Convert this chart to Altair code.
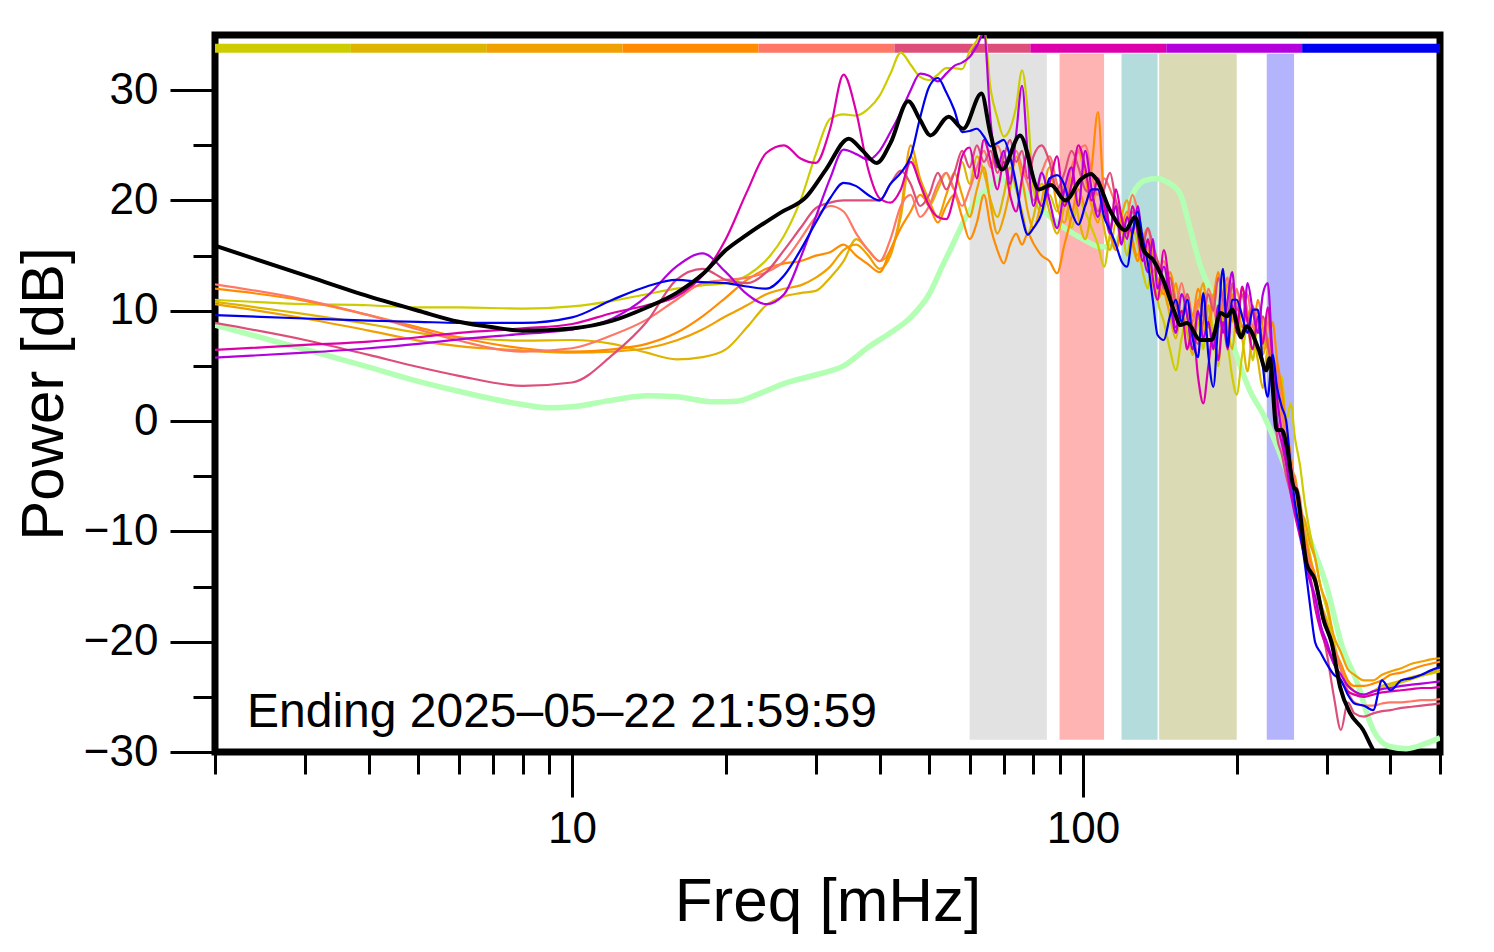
import altair as alt
import pandas as pd

FONT = "Liberation Sans"

# shared frequency grid (mHz) for the nine coloured spectra
F = [2, 3, 4, 5, 6, 8, 10, 12, 14, 16,
     18, 20, 22, 24, 26, 28, 30, 32, 34, 36,
     38, 40, 42, 44, 46, 48, 50, 52, 54, 56,
     58, 60, 62, 64, 66, 68, 70, 72, 74, 76,
     78, 80, 83, 86, 89, 92, 95, 98, 101, 104,
     107, 110, 113, 116, 119, 122, 125, 128, 131, 134,
     137, 140, 144, 148, 152, 156, 160, 164, 168, 172,
     176, 180, 184, 188, 192, 196, 200, 205, 210, 215,
     220, 225, 230, 235, 240, 245, 250, 255, 260, 266,
     272, 278, 285, 292, 300, 310, 320, 330, 340, 355,
     370, 385, 400, 420, 440, 460, 480, 500]

S1 = [11.0, 10.6, 10.5, 10.3, 10.3, 10.2, 10.4, 10.9, 11.5, 12.0,
      12.3, 12.5, 13.2, 14.6, 16.8, 20.0, 24.2, 27.4, 27.8, 27.7,
      28.3, 29.5, 31.5, 33.4, 32.3, 31.2, 30.9, 31.4, 32.0, 32.0,
      31.9, 33.5, 34.5, 35.5, 30.0, 27.5, 25.8, 26.5, 28.5, 31.8,
      28.0, 21.0, 18.9, 20.5, 19.0, 21.5, 17.5, 20.0, 19.0, 17.5,
      16.0, 14.0, 17.0, 19.5, 18.0, 15.0, 17.5, 16.0, 13.5, 12.0,
      15.0, 11.0, 9.0, 6.5, 4.6, 7.5, 9.5, 6.0, 9.0, 6.5,
      10.5, 8.0, 5.0, 9.5, 7.0, 4.0, 2.4, 6.0, 8.5, 5.5,
      9.0, 6.5, 9.5, 5.0, 1.0, 4.0, 0.0, 1.6, -1.5, -4.0,
      -7.5, -10.0, -12.5, -15.0, -17.0, -20.0, -22.5, -24.0, -24.5, -25.0,
      -24.5, -24.2, -24.0, -23.7, -23.4, -23.1, -22.9, -22.7]

S2 = [10.8, 9.7, 8.8, 8.0, 7.6, 7.3, 7.35, 7.0, 6.2, 5.6,
      5.8, 6.5, 8.5, 10.5, 11.3, 11.6, 11.8, 13.0, 14.5, 16.5,
      15.5, 14.5, 15.5, 18.5, 24.0, 21.5, 19.5, 21.0, 22.5, 21.0,
      23.5, 21.5, 24.0, 22.5, 20.0, 18.5, 20.5, 23.0, 21.0, 19.0,
      17.0, 18.5, 21.5, 19.0, 17.0, 19.5, 22.0, 18.5, 16.5, 19.0,
      21.0, 17.5, 15.5, 18.0, 16.5, 18.5, 16.0, 14.5, 16.5, 14.0,
      12.5, 11.0, 12.0, 9.5, 7.5, 10.0, 8.0, 6.0, 9.5, 8.0,
      10.5, 7.0, 9.0, 11.0, 8.5, 6.5, 9.5, 7.5, 4.5, 8.0,
      5.5, 3.0, 6.5, 4.0, 0.5, 2.0, -1.5, -3.5, -5.5, -7.5,
      -10.0, -12.0, -14.5, -16.5, -18.0, -20.5, -22.5, -23.8, -24.5, -24.8,
      -24.5, -24.0, -23.8, -23.5, -23.2, -23.0, -22.8, -22.5]

S3 = [10.6, 9.3, 8.2, 7.3, 6.8, 6.4, 6.2, 6.3, 6.6, 7.3,
      8.3, 9.5, 10.5, 11.5, 12.0, 12.3, 13.0, 14.0, 15.5, 16.0,
      15.0, 13.8, 15.0, 19.0, 25.0, 22.0, 20.0, 18.5, 20.5, 22.5,
      20.5, 18.5, 21.0, 23.0, 19.5, 17.0, 18.5, 21.0, 24.0, 22.0,
      19.0, 17.5, 20.0, 23.0, 19.5, 18.0, 21.5, 24.5, 22.0, 19.5,
      18.0, 20.5, 17.0, 15.5, 18.5, 20.0, 16.5, 15.0, 17.0, 15.5,
      13.5, 14.5, 12.0, 10.0, 12.5, 9.0, 11.5, 8.0, 10.5, 12.5,
      9.0, 11.5, 8.5, 10.0, 12.5, 9.0, 11.0, 8.5, 10.0, 7.5,
      9.0, 6.0, 7.5, 4.5, 2.5, -0.5, -2.0, -4.5, -5.0, -8.0,
      -9.0, -11.0, -12.5, -15.0, -16.5, -19.5, -21.0, -22.5, -23.0, -23.5,
      -23.5, -23.0, -22.7, -22.4, -22.0, -21.8, -21.6, -21.5]

S4 = [12.0, 10.9, 9.6, 8.5, 7.6, 6.6, 6.3, 6.5, 7.0, 8.0,
      9.5, 11.2, 12.8, 13.8, 14.3, 14.5, 15.0, 15.3, 16.0, 15.0,
      14.2, 13.5, 15.5, 17.5, 19.0, 20.5, 19.5, 18.0, 19.5, 20.5,
      18.5, 16.5, 18.0, 20.5, 17.5, 15.5, 14.3, 16.0, 17.0, 16.0,
      17.0, 16.1, 15.0, 14.5, 13.4, 16.0, 18.5, 21.0, 19.5, 23.0,
      28.0, 20.0, 17.5, 15.5, 17.5, 19.0, 16.5, 14.5, 16.5, 17.5,
      15.0, 13.0, 11.5, 13.5, 11.0, 9.0, 11.5, 9.5, 12.0, 10.0,
      8.5, 11.0, 13.5, 10.0, 8.0, 11.5, 9.0, 12.0, 10.0, 8.0,
      11.0, 8.5, 6.5, 9.0, 5.5, 3.0, -0.5, -3.0, -6.0, -9.0,
      -10.5, -12.5, -14.0, -16.5, -18.5, -20.5, -22.0, -23.5, -24.0, -24.0,
      -23.8, -23.5, -23.0, -22.8, -22.5, -22.2, -22.0, -21.8]

S5 = [12.4, 11.0, 9.6, 8.3, 7.3, 6.3, 6.6, 7.8, 9.2, 11.0,
      12.5, 12.8, 13.0, 13.5, 14.5, 16.5, 18.5, 19.5, 19.0, 17.0,
      15.5, 14.5, 16.5, 19.5, 20.5, 18.5, 19.5, 21.5, 22.5, 21.0,
      19.5, 21.0, 23.0, 24.5, 23.0, 25.0, 23.5, 22.0, 24.5, 23.0,
      21.5, 20.0, 22.5, 24.0, 21.5, 20.0, 23.0, 24.5, 25.0, 22.5,
      20.5, 22.0, 21.0, 19.5, 17.5, 18.5, 20.5, 19.0, 16.5, 17.5,
      15.5, 13.5, 14.5, 12.0, 10.5, 12.5, 10.0, 9.0, 11.0, 9.5,
      12.0, 10.5, 8.5, 11.5, 13.0, 10.0, 12.0, 9.5, 11.5, 8.5,
      10.0, 7.5, 9.0, 6.0, 4.5, 1.0, -2.0, -3.5, -5.5, -7.0,
      -11.0, -13.0, -14.5, -16.5, -18.5, -20.5, -22.5, -24.5, -25.5, -25.8,
      -25.8, -25.6, -25.5, -25.5, -25.4, -25.3, -25.3, -25.2]

S6 = [8.9, 7.35, 6.0, 4.9, 4.1, 3.2, 3.5, 6.0, 9.0, 12.8,
      13.8, 12.8, 12.5, 13.5, 15.5, 17.5, 19.3, 19.8, 20.0, 20.0,
      20.0, 20.0, 21.5, 22.7, 21.5, 19.5, 20.5, 22.5, 21.0, 22.5,
      24.5, 23.0, 25.0, 23.5, 24.5, 22.5, 24.0, 25.5, 23.5, 24.5,
      22.0, 24.0, 25.0, 23.5, 21.0, 22.5, 24.5, 23.0, 21.0, 20.5,
      19.0, 21.0, 22.5, 20.0, 18.5, 17.0, 19.0, 17.5, 16.0, 17.5,
      16.0, 14.5, 12.0, 13.0, 10.5, 9.5, 11.5, 8.5, 7.0, 9.0,
      11.5, 10.0, 13.0, 11.0, 9.5, 12.5, 10.0, 11.5, 9.0, 10.5,
      8.0, 9.5, 7.0, 4.0, -1.5, -3.0, -5.0, -6.5, -8.0, -10.0,
      -12.0, -14.0, -16.0, -18.5, -21.0, -25.0, -28.0, -25.5, -26.5, -26.8,
      -26.5, -26.3, -26.2, -26.0, -25.9, -25.8, -25.7, -25.6]

S7 = [6.45, 6.9, 7.2, 7.6, 8.0, 8.4, 8.8, 9.8, 10.5, 11.3,
      13.2, 16.5, 20.8, 24.3, 25.0, 23.8, 23.4, 26.5, 31.4, 28.0,
      22.8, 20.2, 19.8, 21.0, 23.5, 21.5, 19.5, 18.5, 18.3, 20.5,
      24.0, 24.8, 22.0, 25.5, 23.5, 21.0, 23.5, 20.5, 19.0, 22.0,
      24.5, 22.0, 19.5, 21.5, 24.0, 19.5, 21.5, 25.0, 23.0, 20.0,
      22.0, 19.5, 17.0, 21.0, 18.5, 16.5, 19.5, 17.0, 14.5, 16.5,
      13.0, 11.0, 15.5, 12.0, 8.5, 10.0, 6.5, 8.5, 4.0, 1.6,
      5.0, 8.0, 5.5, 9.0, 6.5, 10.5, 8.0, 12.2, 9.0, 6.5,
      9.5, 7.0, 10.3, 5.5, 0.0, -2.0, -4.0, -6.5, -8.5, -10.5,
      -12.5, -14.0, -17.0, -19.0, -20.5, -22.0, -23.5, -24.5, -24.8, -25.0,
      -24.8, -24.6, -24.5, -24.4, -24.3, -24.2, -24.2, -24.1]

S8 = [5.75, 6.2, 6.6, 7.0, 7.4, 7.9, 8.3, 9.3, 11.3, 14.0,
      15.2, 13.5, 11.5, 10.6, 11.5, 14.8, 18.5, 22.0, 24.6, 24.2,
      23.7, 24.5, 26.2, 28.0, 30.0, 31.5, 31.3, 30.8, 31.5, 32.2,
      32.5, 33.0, 34.0, 35.2, 27.0, 23.0, 24.5, 21.5, 26.0, 30.4,
      24.0, 19.5, 22.5, 20.0, 17.5, 21.0, 23.0, 19.5, 24.5, 21.0,
      18.5, 20.5, 17.5, 19.5, 16.0, 18.5, 17.0, 19.5, 15.5, 13.5,
      16.5, 12.0, 14.0, 11.0, 8.0, 11.5, 9.5, 6.5, 10.0, 7.5,
      9.0, 6.5, 10.5, 8.0, 11.0, 13.5, 9.0, 7.5, 12.5, 10.0,
      8.0, 11.5, 12.5, 6.0, 2.0, -1.0, -3.5, -6.0, -8.0, -10.0,
      -12.5, -14.5, -16.0, -18.5, -20.0, -22.0, -23.0, -24.0, -24.5, -24.8,
      -24.5, -24.3, -24.2, -24.0, -23.9, -23.8, -23.7, -23.6]

S9 = [9.6, 9.3, 9.1, 9.0, 8.9, 8.9, 9.4, 11.0, 12.2, 12.8,
      12.6, 12.5, 12.2, 12.0, 13.2, 15.5, 18.0, 20.2, 21.6, 21.3,
      20.5, 20.0, 21.5, 22.5, 24.0, 27.5, 30.3, 31.1, 29.8, 28.2,
      26.2, 26.3, 26.5, 25.8, 24.9, 25.2, 25.5, 24.0, 21.5, 18.5,
      16.9, 17.5, 18.8, 22.0, 22.3, 21.4, 19.0, 17.8, 19.5, 21.0,
      21.0, 18.5, 17.3, 16.0, 14.5, 14.0, 17.0, 19.0, 16.5, 14.3,
      11.0, 7.8, 7.35, 9.5, 11.0, 9.0, 11.0, 7.5, 5.8, 11.6,
      6.0, 3.1, 9.0, 13.8, 6.7, 11.0, 11.0, 9.5, 8.0, 10.1,
      10.1, 5.0, 2.2, 6.0, 3.0, 1.3, 0.0, -4.0, -7.4, -10.0,
      -13.0, -16.5, -20.1, -21.0, -22.0, -23.0, -23.5, -24.8, -25.6, -25.8,
      -26.2, -23.5, -24.4, -23.5, -23.3, -23.0, -22.6, -22.3]

SERIES = [S1, S2, S3, S4, S5, S6, S7, S8, S9]
COLORS = ["#cccc00", "#ddb500", "#f0a000", "#ff8c00", "#ff7766",
          "#dd4f7a", "#dd00aa", "#b300dd", "#0000ee"]

# mean spectrum (black)
BF = [2, 3, 4, 5, 6, 7, 8, 10, 12, 14,
      16, 18, 20, 22, 25.6, 28.7, 31.4, 34.8, 36.9, 39.5,
      42, 45.5, 48, 50.3, 54.6, 58.3, 63.3, 65.8, 69.5, 75.3,
      82, 86.6, 92.4, 99, 103.7, 106.4, 113, 121, 126.5, 131.4,
      137.3, 143.6, 151.6, 155, 160, 169.5, 178.6, 186, 191.5, 196,
      204, 209, 221, 228.4, 232, 239.6, 245, 250.7, 258.6, 261.7,
      274, 284.5, 295.7, 306.8, 318.7, 333.6, 353.6, 370, 380, 395,
      420, 460, 500]
BD = [15.9, 13.2, 11.3, 10.0, 9.0, 8.5, 8.2, 8.4, 9.1, 10.3,
      11.6, 13.3, 15.5, 16.9, 18.9, 20.3, 22.8, 25.6, 24.6, 23.4,
      25.2, 29.0, 27.3, 25.9, 27.6, 26.5, 29.7, 26.2, 22.8, 25.9,
      21.0, 21.4, 20.0, 21.9, 22.4, 21.9, 19.1, 17.3, 18.5, 15.5,
      14.6, 12.8, 9.7, 8.7, 8.9, 7.35, 7.35, 9.8, 9.5, 10.1,
      7.6, 8.6, 6.45, 4.6, 5.7, -0.8, -0.8, -2.3, -6.0, -6.25,
      -12.9, -14.4, -18.0, -20.1, -24.1, -26.5, -28.0, -29.8, -30.5, -31.0,
      -32.0, -32.0, -32.0]

# reference model (light green)
GF = [2, 3, 4, 5, 6, 7, 8, 9, 10, 12,
      14, 16, 19, 21, 23, 26, 30, 34, 38, 42,
      46, 50, 53, 56, 59, 62, 65, 69, 72, 78,
      84, 92, 100, 108, 115, 120, 125, 132, 140, 147,
      155, 162, 170, 177, 185, 195, 205, 212, 226, 247,
      274, 300, 322, 343, 370, 398, 430, 470, 500]
GD = [8.7, 6.5, 4.9, 3.6, 2.7, 2.0, 1.5, 1.2, 1.3, 1.9,
      2.3, 2.2, 1.75, 1.8, 2.4, 3.4, 4.2, 5.0, 6.7, 8.0,
      9.4, 11.5, 14.0, 16.3, 18.5, 20.0, 21.0, 22.0, 21.5, 20.5,
      19.0, 17.5, 16.5, 15.8, 15.8, 18.0, 20.5, 21.8, 22.0, 21.6,
      20.6, 17.5, 14.0, 12.0, 9.5, 7.3, 4.5, 2.8, 0.5, -3.8,
      -9.9, -15.0, -20.5, -23.5, -28.0, -29.5, -29.7, -29.2, -28.7]

# colour strip at the top
SEG_EDGES = [2, 3.69, 6.81, 12.56, 23.18, 42.76, 78.9, 145.6, 268.6, 500]

# shaded frequency bands
BAND_LO = [60, 90, 119, 141, 229]
BAND_HI = [85, 110, 140, 200, 259]
BAND_COLORS = ["#e2e2e2", "#ffb4b4", "#b4dcdd", "#dadbb5", "#b4b4fc"]

LABEL = "Ending 2025\u201305\u201322 21:59:59"

W, H = 1225, 717
xs = alt.Scale(type="log", domain=[2, 500], nice=False)
ys = alt.Scale(domain=[-30, 35], nice=False, zero=False)

X_MAJOR = [10, 100]
X_MINOR = [2, 3, 4, 5, 6, 7, 8, 9, 20, 30, 40, 50, 60, 70, 80, 90, 200, 300, 400, 500]
Y_MAJOR = [-30, -20, -10, 0, 10, 20, 30]
Y_MINOR = [-25, -15, -5, 5, 15, 25]

x_major_axis = alt.Axis(values=X_MAJOR, orient="bottom", tickSize=45, tickWidth=3,
                        labelFontSize=44, labelPadding=10, labelFlush=False,
                        format="d", domain=False, grid=False,
                        title="Freq [mHz]", titleFontSize=62, titleFontWeight="normal",
                        titleX=W / 2, titleY=168, titleBaseline="alphabetic")
x_minor_axis = alt.Axis(values=X_MINOR, orient="bottom", tickSize=22, tickWidth=3,
                        labels=False, domain=False, grid=False, title=None)
y_major_axis = alt.Axis(values=Y_MAJOR, orient="left", tickSize=45, tickWidth=3,
                        labelFontSize=44, labelPadding=12, labelFlush=False,
                        domain=False, grid=False,
                        title="Power [dB]", titleFontSize=60, titleFontWeight="normal",
                        titleX=-153, titleY=H / 2, titleAngle=270,
                        titleBaseline="alphabetic")
y_minor_axis = alt.Axis(values=Y_MINOR, orient="left", tickSize=22, tickWidth=3,
                        labels=False, domain=False, grid=False, title=None)

bands_df = pd.DataFrame({"lo": BAND_LO, "hi": BAND_HI, "c": BAND_COLORS,
                         "b": [-28.9] * 5, "t": [33.3] * 5})
bands = alt.Chart(bands_df).mark_rect(clip=True).encode(
    x=alt.X("lo:Q", scale=xs, axis=x_major_axis),
    x2="hi:Q",
    y=alt.Y("b:Q", scale=ys, axis=y_major_axis),
    y2="t:Q",
    color=alt.Color("c:N", scale=None),
)

seg_df = pd.DataFrame({"lo": SEG_EDGES[:-1], "hi": SEG_EDGES[1:], "c": COLORS,
                       "b": [33.4] * 9, "t": [34.2] * 9})
strip = alt.Chart(seg_df).mark_rect(clip=True).encode(
    x=alt.X("lo:Q", scale=xs, axis=x_minor_axis),
    x2="hi:Q",
    y=alt.Y("b:Q", scale=ys, axis=y_minor_axis),
    y2="t:Q",
    color=alt.Color("c:N", scale=None),
)


def line(freqs, vals, color, width):
    df = pd.DataFrame({"f": freqs, "v": vals})
    return alt.Chart(df).mark_line(color=color, strokeWidth=width, clip=True,
                                   interpolate="monotone").encode(
        x=alt.X("f:Q", scale=xs, axis=None),
        y=alt.Y("v:Q", scale=ys, axis=None),
    )


layers = [bands, strip, line(GF, GD, "#b3ffb3", 5.5)]
for vals, col in zip(SERIES, COLORS):
    layers.append(line(F, vals, col, 2.2))
layers.append(line(BF, BD, "black", 4))

txt = alt.Chart(pd.DataFrame({"f": [2.31], "v": [-27.7], "t": [LABEL]})).mark_text(
    align="left", baseline="alphabetic", fontSize=48, font=FONT, color="black"
).encode(
    x=alt.X("f:Q", scale=xs, axis=None),
    y=alt.Y("v:Q", scale=ys, axis=None),
    text="t:N",
)
layers.append(txt)

chart = alt.layer(*layers).resolve_axis(x="independent", y="independent").properties(
    width=W, height=H,
    autosize=alt.AutoSizeParams(type="none"),
    padding={"left": 207, "top": 27, "right": 46, "bottom": 190},
    background="white",
).configure_view(
    stroke="black", strokeWidth=7
).configure_axis(
    labelFont=FONT, titleFont=FONT, labelColor="black", titleColor="black",
    tickColor="black"
)

chart.save("out.html", embed_options={"renderer": "svg", "actions": False})
